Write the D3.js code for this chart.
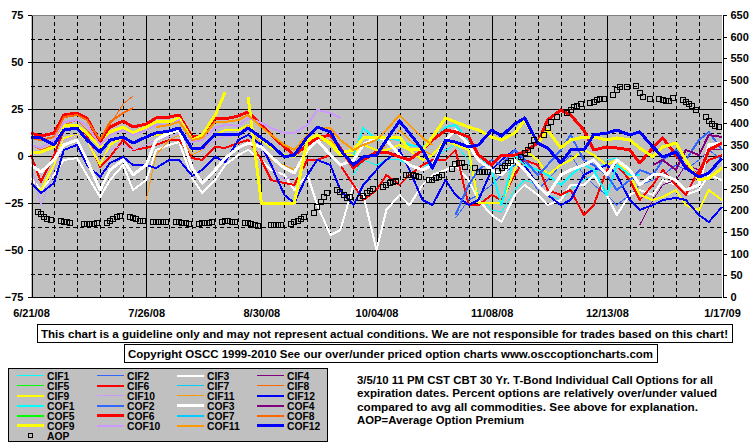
<!DOCTYPE html>
<html><head><meta charset="utf-8">
<script src="https://cdn.jsdelivr.net/npm/d3@7"></script>
<style>
body{margin:0;background:#fff}
svg{display:block}
text{font-family:"Liberation Sans",Arial,sans-serif;font-weight:bold;fill:#000}
</style>
</head><body>
<svg id="chart" width="755" height="446"></svg>
<script>
const _ = null;
// ---- categories ----
const startDay = Date.UTC(2008, 5, 21);
const endDay = Date.UTC(2009, 0, 17);
// sampled day offsets (days after 6/21/08) used by every line series
const sampleDays = [0,3,7,10,14,17,21,24,28,31,35,38,42,45,49,52,56,59,63,66,70,73,77,80,84,87,91,94,98,101,105,108,112,115,119,122,126,129,133,136,140,143,147,150,154,157,161,164,168,171,175,178,182,185,189,192,196,199,203,206,210];
const dateTickDays = [0,35,70,105,140,175,210];
const dateTickLabels = ["6/21/08","7/26/08","8/30/08","10/04/08","11/08/08","12/13/08","1/17/09"];
const leftTicks = [-75,-50,-25,0,25,50,75];
const rightTicks = [0,50,100,150,200,250,300,350,400,450,500,550,600,650];

// ---- series values (percent over/under) ----
const cif1 = [-10.1,-2.1,-4.8,-2.1,-2.1,-4.8,-7.4,-2.1,3.2,5.9,-2.1,-20.7,-28.7,-29.8,-18.1,-12.8,-15.4,-20.7,-23.4,-18.1,-12.8,-10.1,-2.1,-1.1,-12.8,-23.4];
const cif2 = [-33.0,-23.4,-20.7,-15.4,-10.1,-4.8,-7.4,-18.1,-12.8,-4.8,0.5,-10.1,-15.4,-20.7,-26.1,-20.7,-15.4,-12.8,-10.1,-4.8,-7.4,-2.1,3.2,-2.1];
const cif3 = [-11.7,-18.1,-10.1,-2.1,-1.1,-10.1,-21.8,-12.8,-4.8,-18.1,-12.8,3.2,5.9,7.4,-11.7,-19.7,-12.8,-4.8,0.5,3.2,-2.1,-7.4,-10.1,-18.1,-10.1,-26.1,-42.0,-39.4,-15.4,-20.7,-50.0,-28.7,-20.7,-26.1,-15.4,-10.1,-7.4,-4.8,-12.8,-23.4,-31.4,-35.1,-20.7,-15.4,-20.7,-26.1,-23.4,-15.4,-15.4,-10.1,-20.7,-31.4,-20.7,-18.1,-20.7,-12.8,-15.4,-20.7,-18.1,-10.1,-12.8];
const cif4 = [-36.7,-23.4,-15.4,-12.8,-4.8,-7.4,3.2,3.2];
const cif5 = [];
const cif6 = [0.5,-13.8,0.5,13.8,14.9,11.2,-5.9,-0.5,8.5,3.2,4.3,5.9,8.5,8.5,-1.1,-2.1,4.8,4.3,6.9,8.5,-2.1,-12.8,-14.4,-15.4,-2.1,-2.1,0.5,-4.8,-15.4,-23.4,-18.1,-10.1,-15.4,-10.1,-4.8,-2.1,-2.1,3.2,-26.1,-26.1,-20.7,-23.4,-10.1,-2.1,-4.8,-18.1,-20.7,-18.1,-31.4,-26.1,-7.4,-4.8,-12.8,-23.4,-15.4,-7.4,-15.4,-20.7,-7.4,-2.1,0.5];
const cif7 = [];
const cif8 = [5.9,3.2,5.9,16.5,19.1,13.8,5.9,16.5,27.7,31.9];
const cif9 = [-15.4,-18.1,-4.8,9.6,11.2,8.5,-4.8,5.9,10.1,7.4,10.1,11.2,12.2,14.9,3.2,4.3,11.2,13.8,13.8,16.5,8.5,4.3,0.5,-0.5,5.9,11.2,5.9,0.5,0.5,5.9,3.2,3.2,5.9,3.2,-2.1,0.5,8.5,5.9,3.2,-25,-25,-25,-7.4,3.2,-2.1,-10.1,-4.8,-2.1,3.2,0.5,-4.8,-2.1,-10.1,-20.7,-23.4,-21.8,-18.1,-26.1,-28.7,-18.1,-23.4];
const cif10 = [-4.8,-26.1,-7.4,8.5,11.2,8.5,-2.1,3.2,5.9,3.2,5.9,8.5,10.1,12.2,3.2,3.2,8.5,10.1,11.2,13.8,3.2,-4.8,-12.8,-10.1,3.2,8.5,13.8,11.2];
const cif11 = [-23.4,0.5,8.5,11.2,0.5,3.2,11.2,11.2,11.2,16.5,5.9,-2.1,-4.8,-7.4,3.2,8.5,8.5,3.2,-4.8,-2.1,0.5,5.9,13.8,8.5,3.2,0.5];
const cif12 = [-14.4,-19.7,-14.4,3.2,5.9,-4.8,-11.2,-3.7,-0.5,-4.8,-4.8,-6.4,-2.1,-2.1,-10.6,-7.4,-0.5,-3.2,8.5,11.2,5.9,-4.8,-20.7,-25,-10.1,-2.1,-4.8,-18.1,-26.1,-15.4,-7.4,-2.1,3.2,-7.4,-23.4,-26.1,-12.8,-20.7,-26.1,-23.4,-7.4,-2.1,3.2,-4.8,-15.4,-20.7,-26.1,-23.4,-10.1,-7.4,-4.8,-10.1,-23.4,-28.7,-26.1,-23.4,-22.3,-23.4,-31.4,-35.1,-27.1];
const cof1 = [0.5,14.9,8.5,9.6,8.5,5.9,4.8,8.5,15.4,16.5,8.5,0.5,-7.4,-26.1,0.5,-4.8,-7.4,-10.1,-15.4,-10.1,-4.8,-7.4,-20.7,-4.8,-10.1,-10.1];
const cof2 = [-31.4,-15.4,-7.4,-2.1,-4.8,3.2,-2.1,-10.1,-4.8,3.2,11.2,-2.1,-4.8,-10.1,-18.1,-12.8,-7.4,-10.1,-2.1,3.2,-2.1,8.5,12.8,3.2];
const cof3 = [-4.8,-8.5,-2.1,5.9,8.5,-2.1,-18.1,-7.4,-2.1,-10.1,-4.8,8.5,12.2,13.8,-6.4,-14.4,-7.4,-1.1,4.3,6.9,4.8,-0.5,-6.4,-9.0,3.2,8.5,0.5,-4.8,-2.1,5.9,10.1,8.5,0.5,-4.8,-7.4,-4.8,8.5,13.8,5.9,-2.1,-7.4,-10.1,-2.1,-7.4,-15.4,-20.7,-10.1,-7.4,-4.8,-2.1,-10.1,-2.1,-7.4,-15.4,-10.1,-10.1,-12.8,-18.1,-15.4,5.9,6.9];
const cof4 = [-4.8,-2.1,-7.4,3.2,0.5,11.2,10.1];
const cof5 = [];
const cof6 = [12.2,10.6,12.2,21.8,22.9,20.2,7.4,15.4,18.6,15.4,17.0,20.2,20.7,21.8,10.1,10.6,20.2,19.7,21.3,23.4,16.5,11.2,4.8,0.5,5.9,9.6,11.2,4.3,-6.4,-2.1,2.1,2.1,-0.5,-2.1,3.2,8.5,13.8,12.8,10.1,0.5,-4.8,0.5,0.5,2.1,6.9,19.1,24.5,21.8,13.8,3.2,4.8,4.3,3.2,-3.7,4.3,9.6,0.5,-5.9,-10.1,3.2,6.9];
const cof7 = [];
const cof8 = [9.6,8.5,10.1,20.7,21.8,19.1,8.5,18.1,22.9,25.5];
const cof9 = [1.6,2.1,4.8,16.5,16.0,12.2,4.8,12.8,15.4,12.2,15.4,18.1,18.1,20.2,8.5,11.2,21.8,34.0,_,31.4,-25,-25,-25,-25,8.5,11.2,6.9,1.6,3.2,9.6,10.1,10.1,10.1,3.2,3.2,10.1,20.2,18.1,15.4,13.8,10.1,8.5,12.2,19.1,6.9,13.8,4.3,8.5,10.1,10.1,8.5,9.6,8.5,4.3,-0.5,4.8,6.9,-2.1,-12.8,-11.7,-6.4];
const cof10 = [5.9,4.3,8.5,18.1,19.1,16.5,5.9,11.2,13.8,11.2,13.8,16.5,16.5,19.1,7.4,8.5,14.9,16.5,16.0,20.2,17.6,14.9,12.2,12.2,16.5,24.5,22.9,20.2];
const cof11 = [15.4,16.5,18.1,8.5,9.6,18.1,18.1,19.1,21.8,15.4,11.2,5.9,3.2,11.2,14.9,14.9,8.5,3.2,5.9,8.5,13.8,21.8,16.5,9.6,5.9];
const cof12 = [10.1,9.6,5.9,13.8,14.9,8.5,2.1,8.5,10.1,6.9,10.1,12.2,13.3,14.9,3.7,4.3,11.7,11.7,11.2,14.9,9.6,5.9,-0.5,0.5,10.1,15.4,12.8,3.2,-4.8,-0.5,0.5,8.5,18.6,12.2,3.2,-6.4,8.5,7.4,4.8,5.9,13.8,10.6,17.0,20.2,6.9,4.3,-3.7,3.2,3.2,11.2,12.2,13.8,11.2,12.8,4.8,-0.5,2.1,-6.4,-11.2,-9.0,-1.1];

// index into sampleDays where each series begins
const seriesNames = ["CIF1","CIF2","CIF3","CIF4","CIF5","CIF6","CIF7","CIF8","CIF9","CIF10","CIF11","CIF12",
                     "COF1","COF2","COF3","COF4","COF5","COF6","COF7","COF8","COF9","COF10","COF11","COF12"];
const seriesData = [cif1,cif2,cif3,cif4,cif5,cif6,cif7,cif8,cif9,cif10,cif11,cif12,
                    cof1,cof2,cof3,cof4,cof5,cof6,cof7,cof8,cof9,cof10,cof11,cof12];
const seriesStart = [28,37,0,53,0,0,0,0,0,0,10,0, 28,37,0,54,0,0,0,0,0,0,11,0];

// AOP (average option premium, right axis), one value per weekday 6/23/08 .. 1/16/09
const aopValues = [
 197,191,185,180,177, 175,173,172,171,_, 169,169,168,169,170, 171,175,180,185,186, 185,183,180,176,175,
 173,172,172,172,172, 173,172,171,170,169, 169,170,170,171,172, 174,176,175,173,172, 171,170,168,166,164,
 _,166,165,166,167, 169,172,176,180,184, 194,208,218,230,239, 247,243,235,228,230, 228,233,240,245,249,
 254,258,263,266,268, 281,281,281,280,277, 270,270,274,277,281, 294,306,308,308,300, 297,289,287,287,287,
 291,297,302,308,314, 323,331,339,348,362, 373,389,404,_,415, 423,431,437,440,444, 448,450,454,456,456,
 466,477,483,_,485, 486,471,462,_,456, 456,454,452,452,458, 455,450,446,440,430, 414,406,398,394,391];

// ---- styles ----
const palette = ["#00FFFF","#3366FF","#FFFFFF","#800080","#00FF00","#FF0000","#00CCFF","#FF6600","#FFFF00","#CC99FF","#FF9900","#0000FF"];
const cifWidth = [1,1,2,1,1,2,1,1,2,1,1,2];
const cofWidth = [2,2,3,2,2,3,2,2,3,2,2,3];

const svg = d3.select("#chart");
const L = 31, R = 722, T = 15, B = 297;
const dateOf = d => new Date(startDay + d * 864e5);
const x = d3.scaleUtc().domain([new Date(startDay), new Date(endDay)]).range([L, R]);
const yL = d3.scaleLinear().domain([-75, 75]).range([B, T]);
const yR = d3.scaleLinear().domain([0, 650]).range([B, T]);

svg.append("rect").attr("x",0).attr("y",0).attr("width",755).attr("height",446).attr("fill","#fff");
svg.append("rect").attr("x",L).attr("y",T).attr("width",R-L).attr("height",B-T).attr("fill","#C0C0C0");

// grid
const grid = svg.append("g").attr("shape-rendering","crispEdges");
d3.range(7, 210, 7).forEach(d => {
  const gx = Math.round(x(dateOf(d))) + 0.5;
  grid.append("line").attr("x1",gx).attr("x2",gx).attr("y1",T).attr("y2",B)
    .attr("stroke","#000").attr("stroke-width",1)
    .attr("stroke-dasharray", d % 35 === 0 ? null : "4,3");
});
d3.range(-62.5, 75, 12.5).forEach(v => {
  const gy = Math.round(yL(v)) + 0.5;
  grid.append("line").attr("x1",L).attr("x2",R).attr("y1",gy).attr("y2",gy)
    .attr("stroke","#000").attr("stroke-width",1)
    .attr("stroke-dasharray", (v % 25 === 0) ? null : "4,3");
});

// series
const line = d3.line()
  .defined(p => p.v !== null && p.v !== undefined)
  .x(p => x(dateOf(p.d)))
  .y(p => yL(p.v));
const plot = svg.append("g");
seriesNames.forEach((name, i) => {
  const vals = seriesData[i];
  if (!vals.length) return;
  const pts = vals.map((v, j) => ({ d: sampleDays[seriesStart[i] + j], v }));
  const k = i % 12;
  plot.append("path").datum(pts)
    .attr("d", line)
    .attr("fill","none")
    .attr("stroke", palette[k])
    .attr("stroke-width", i < 12 ? cifWidth[k] : cofWidth[k])
    .attr("stroke-linejoin","round")
    .attr("shape-rendering","crispEdges");
});

// AOP squares
const weekdays = d3.range(2, 210).filter(d => d % 7 >= 2);
const aopPts = weekdays.map((d, j) => ({ d, v: aopValues[j] })).filter(p => p.v !== null);
svg.append("g").selectAll("rect").data(aopPts).join("rect")
  .attr("x", p => Math.round(x(dateOf(p.d))) - 2.5)
  .attr("y", p => Math.round(yR(p.v)) - 2.5)
  .attr("width",5).attr("height",5)
  .attr("fill","none").attr("stroke","#000").attr("stroke-width",1)
  .attr("shape-rendering","crispEdges");

// frame
const frame = svg.append("g").attr("shape-rendering","crispEdges");
frame.append("line").attr("x1",L).attr("x2",R).attr("y1",T+0.5).attr("y2",T+0.5).attr("stroke","#808080");

// axes
const axL = svg.append("g").attr("transform",`translate(${L+0.5},0)`)
  .call(d3.axisLeft(yL).tickValues(leftTicks).tickSize(4).tickSizeOuter(0).tickPadding(4).tickFormat(d3.format("d")));
const axR = svg.append("g").attr("transform",`translate(${R+0.5},0)`)
  .call(d3.axisRight(yR).tickValues(rightTicks).tickSize(4).tickSizeOuter(0).tickPadding(4).tickFormat(d3.format("d")));
const axB = svg.append("g").attr("transform",`translate(0,${B+0.5})`)
  .call(d3.axisBottom(x).tickValues(dateTickDays.map(dateOf)).tickSize(0).tickSizeOuter(0).tickPadding(12)
    .tickFormat((d, i) => dateTickLabels[i]));
[axL, axR, axB].forEach(a => {
  a.attr("font-family", null).attr("font-size", null);
  a.selectAll("path").attr("stroke","#000").attr("shape-rendering","crispEdges");
  a.selectAll("line").attr("stroke","#000").attr("shape-rendering","crispEdges");
  a.selectAll("text").style("font-size","11px").style("font-weight","bold");
});
axB.select("path").attr("d", `M${L},0H${R}`);

// notice boxes
function box(x0, y0, w, h) {
  svg.append("rect").attr("x",x0+0.5).attr("y",y0+0.5).attr("width",w).attr("height",h)
    .attr("fill","#fff").attr("stroke","#000").attr("shape-rendering","crispEdges");
}
box(37, 324, 695, 18);
svg.append("text").attr("x",41).attr("y",337.5).style("font-size","11px")
  .attr("textLength",687).attr("lengthAdjust","spacingAndGlyphs")
  .text("This chart is a guideline only and may not represent actual conditions. We are not responsible for trades based on this chart!");
box(124, 344, 533, 18);
svg.append("text").attr("x",128).attr("y",357.5).style("font-size","11px")
  .attr("textLength",525).attr("lengthAdjust","spacingAndGlyphs")
  .text("Copyright OSCC 1999-2010 See our over/under priced option charts www.osccoptioncharts.com");

// legend
svg.append("rect").attr("x",8.5).attr("y",368.5).attr("width",319).attr("height",73)
  .attr("fill","#C0C0C0").attr("stroke","#000").attr("shape-rendering","crispEdges");
const leg = svg.append("g");
seriesNames.forEach((name, i) => {
  const row = Math.floor(i / 4), col = i % 4;
  const cy = 375.5 + row * 10;
  const k = i % 12;
  const w = i < 12 ? cifWidth[k] : cofWidth[k];
  leg.append("line").attr("x1",17 + col*80).attr("x2",44 + col*80)
    .attr("y1",cy).attr("y2",cy)
    .attr("stroke",palette[k]).attr("stroke-width", w)
    .attr("shape-rendering","crispEdges");
  leg.append("text").attr("x",47 + col*80).attr("y",cy + 4).style("font-size","10.3px").text(name);
});
leg.append("rect").attr("x",28.5).attr("y",433.5).attr("width",4).attr("height",4)
  .attr("fill","none").attr("stroke","#000").attr("shape-rendering","crispEdges");
leg.append("text").attr("x",47).attr("y",439.5).style("font-size","10.3px").text("AOP");

// description
const descLines = ["3/5/10 11 PM CST CBT 30 Yr. T-Bond Individual Call Options for all",
  "expiration dates. Percent options are relatively over/under valued",
  "compared to avg all commodities. See above for explanation.",
  "AOP=Average Option Premium"];
const descWidths = [356, 360, 341, 167];
descLines.forEach((t, i) => {
  svg.append("text").attr("x",357).attr("y",384 + i*13.4).style("font-size","11px")
    .attr("textLength",descWidths[i]).attr("lengthAdjust","spacingAndGlyphs").text(t);
});
</script>
</body></html>
